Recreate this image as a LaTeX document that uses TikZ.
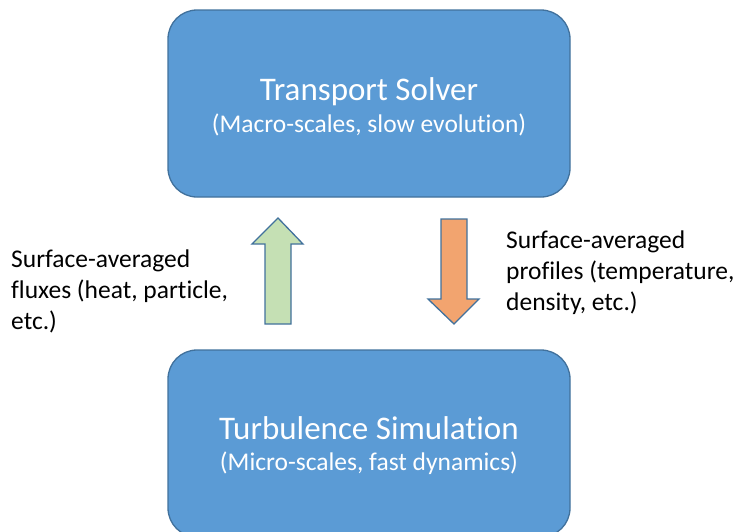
\documentclass[tikz,border=0pt]{standalone}
\usepackage{fontspec}
\setmainfont{Carlito}[Ligatures=NoCommon]
\usetikzlibrary{positioning}

\definecolor{boxblue}{HTML}{5B9BD5}
\definecolor{boxline}{HTML}{41719C}
\definecolor{upgreen}{HTML}{C5E0B4}
\definecolor{downorange}{HTML}{F2A46F}

\tikzset{
  solverbox/.style={draw=boxline, line width=1.3pt, fill=boxblue,
    rounded corners=29pt, minimum width=402pt, minimum height=187pt},
  boxtitle/.style={text=white, anchor=base, inner sep=0pt,
    font=\fontsize{33}{38}\selectfont},
  boxsub/.style={text=white, anchor=base, inner sep=0pt,
    font=\fontsize{25.5}{30}\selectfont},
  blockarrow/.style={draw=boxline, line width=1.3pt, line join=miter},
  sidenote/.style={align=left, anchor=base west, inner sep=0pt,
    font=\fontsize{25.5}{31}\selectfont}
}

\begin{document}
\begin{tikzpicture}[x=1pt,y=-1pt]
\useasboundingbox (0,0) rectangle (740,531);
\clip (0,0) rectangle (740,531);

% the two solvers
\node[solverbox] (transport) at (369,103.5) {};
\node[boxtitle] (transporttitle) at (369,100) {Transport Solver};
\node[boxsub] (transportsub) at (369,132) {(Macro-scales, slow evolution)};

\node[solverbox] (turb) at (369,443.5) {};
\node[boxtitle] (turbtitle) at (369,439) {Turbulence Simulation};
\node[boxsub] (turbsub) at (369,470) {(Micro-scales, fast dynamics)};

% block arrows
\draw[blockarrow, fill=upgreen] (265,324) -- (265,244) -- (252,244) -- (278,218)
  -- (303,244) -- (291,244) -- (291,324) -- cycle;
\draw[blockarrow, fill=downorange] (441,219) -- (441,299) -- (428,299) -- (454,324)
  -- (479,299) -- (467,299) -- (467,219) -- cycle;

% what goes up and down (base = last line)
\node[sidenote] (fluxnote) at (11,329) {Surface-averaged\\fluxes (heat, particle,\\etc.)};
\node[sidenote] (profnote) at (506,310) {Surface-averaged\\profiles (temperature,\\density, etc.)};
\end{tikzpicture}
\end{document}
